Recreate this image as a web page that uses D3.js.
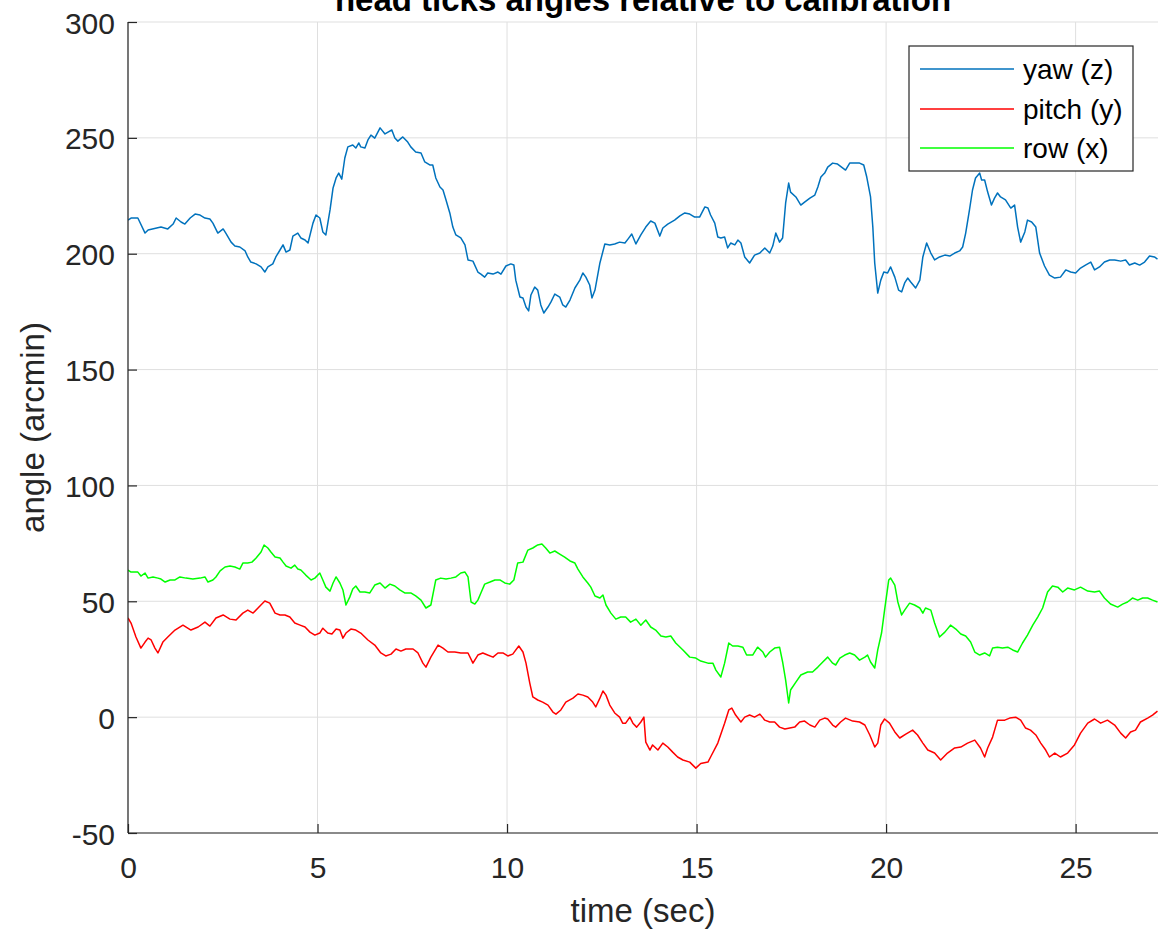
<!DOCTYPE html>
<html>
<head>
<meta charset="utf-8">
<script src="https://cdn.jsdelivr.net/npm/d3@7"></script>
<style>
  html, body { margin: 0; padding: 0; background: #fff; overflow: hidden; }
  svg { display: block; font-family: "Liberation Sans", Arial, Helvetica, sans-serif; }
</style>
</head>
<body>
<svg id="chart" width="1158" height="934"></svg>
<script>
const titleText = "head ticks angles relative to calibration";
const xLabel = "time (sec)";
const yLabel = "angle (arcmin)";
const xTicks = [0, 5, 10, 15, 20, 25];
const yTicks = [-50, 0, 50, 100, 150, 200, 250, 300];
const seriesNames = ["yaw (z)", "pitch (y)", "row (x)"];
const seriesColors = ["#0072BD", "#FF0000", "#00FF00"];

// yaw (z): [time sec, angle arcmin]
const yawData = [
[0,214.5],[0.08,215.4],[0.26,215.4],[0.45,208.9],[0.53,210.2],[0.87,211.5],[1.05,210.7],[1.19,212.8],[1.27,215.4],[1.40,213.7],
[1.50,212.8],[1.64,215.4],[1.77,217.1],[1.90,216.7],[2.03,215.4],[2.16,215.0],[2.24,213.2],[2.37,208.9],[2.51,210.7],[2.58,208.9],
[2.72,205.0],[2.82,203.3],[2.95,202.9],[3.09,201.2],[3.16,198.6],[3.24,196.4],[3.38,195.6],[3.51,194.3],[3.61,192.1],[3.69,194.3],
[3.82,195.6],[3.90,198.6],[4.01,201.6],[4.09,203.8],[4.17,200.7],[4.27,201.6],[4.35,207.6],[4.48,208.9],[4.56,206.8],[4.67,205.9],
[4.75,204.6],[4.88,213.2],[4.96,216.7],[5.06,215.4],[5.14,209.4],[5.22,208.1],[5.33,218.9],[5.41,228.4],[5.49,232.7],[5.56,234.8],
[5.64,232.2],[5.72,241.3],[5.80,246.1],[5.93,246.9],[6.01,245.6],[6.09,247.8],[6.14,246.1],[6.25,245.6],[6.33,249.1],[6.41,251.2],
[6.51,249.9],[6.65,254.3],[6.78,251.7],[6.86,252.5],[6.96,253.4],[7.04,249.9],[7.12,248.6],[7.25,250.4],[7.38,248.2],[7.46,246.1],
[7.59,243.9],[7.73,243.5],[7.83,239.6],[7.96,238.3],[8.04,238.3],[8.12,232.7],[8.23,228.8],[8.31,227.5],[8.39,223.2],[8.49,217.6],
[8.57,211.5],[8.65,208.1],[8.78,206.8],[8.89,203.8],[8.97,197.3],[9.10,196.8],[9.23,192.1],
[9.31,191.2],[9.41,189.9],[9.49,191.7],[9.63,191.2],[9.76,192.1],[9.84,191.2],[9.97,194.7],[10.10,195.6],[10.18,195.1],[10.23,188.6],
[10.34,181.3],[10.42,180.9],[10.50,177.0],[10.57,175.3],[10.63,182.2],[10.73,185.6],[10.81,184.3],[10.89,177.9],[10.97,174.4],[11.08,177.0],
[11.16,179.2],[11.26,182.6],[11.39,181.3],[11.47,177.9],[11.55,177.0],[11.66,180.0],[11.79,185.2],[11.92,188.6],[12.00,191.7],[12.08,189.9],
[12.18,186.5],[12.24,180.9],[12.32,184.3],[12.45,196.0],[12.58,204.2],[12.71,203.8],[12.84,204.2],[12.97,205.0],[13.11,204.6],[13.19,206.3],
[13.29,208.5],[13.40,204.2],[13.53,208.1],[13.66,211.5],[13.79,214.1],[13.90,213.2],[14.03,207.6],[14.11,211.1],[14.24,212.8],[14.42,214.5],
[14.56,216.3],[14.69,217.6],[14.82,217.1],[14.95,215.8],[15.08,215.8],[15.22,220.2],[15.30,219.7],[15.37,216.7],[15.48,213.2],[15.56,207.2],
[15.64,206.8],[15.74,207.2],[15.82,202.5],[15.90,204.6],[16.01,203.8],[16.09,205.9],[16.17,204.6],[16.27,198.6],[16.40,196.0],[16.53,199.4],
[16.67,200.3],[16.80,202.5],[16.93,200.3],[17.01,203.3],[17.09,208.9],[17.19,205.0],[17.27,206.8],[17.35,221.9],[17.43,230.5],[17.48,226.6],
[17.62,224.5],[17.75,221.0],[17.85,222.3],[17.99,224.0],[18.12,225.3],[18.20,228.8],[18.28,233.1],[18.38,234.8],[18.46,237.4],
[18.59,239.1],[18.72,238.7],[18.93,236.1],[19.04,239.1],[19.17,239.1],[19.30,239.1],[19.41,238.3],[19.49,233.1],[19.59,224.5],[19.65,211.5],
[19.70,196.0],[19.78,183.0],[19.86,188.6],[19.94,192.1],[20.04,191.7],[20.12,194.3],[20.23,189.9],[20.33,184.3],[20.41,183.5],[20.49,187.4],
[20.57,189.5],[20.65,187.8],[20.78,185.2],[20.89,188.6],[20.97,198.6],[21.07,204.6],[21.18,200.3],[21.28,197.3],[21.41,198.6],[21.55,199.4],
[21.68,199.0],[21.81,200.3],[21.94,201.2],[22.02,202.9],[22.10,208.9],[22.20,218.9],[22.28,227.5],[22.36,232.7],[22.47,234.8],[22.52,231.8],
[22.60,231.8],[22.68,226.6],[22.78,221.0],[22.86,224.0],[22.94,226.2],[23.02,224.5],[23.15,223.2],[23.29,219.7],[23.39,221.0],[23.47,211.5],
[23.55,205.0],[23.66,209.4],[23.73,214.5],[23.84,213.7],[23.95,211.5],[24.05,200.3],[24.18,194.7],[24.31,190.8],[24.45,189.5],[24.60,189.9],
[24.74,193.0],[24.87,192.1],[25.00,191.7],[25.13,193.8],[25.26,195.1],[25.40,196.4],[25.50,193.0],[25.63,194.3],[25.76,196.4],[25.90,197.3],
[26.03,197.3],[26.19,196.8],[26.32,197.3],[26.42,195.1],[26.56,196.0],[26.69,195.1],[26.82,196.4],[26.95,199.0],[27.08,198.6],[27.16,197.7]
];

// pitch (y)
const pitchData = [
[0,42.8],[0.08,40.6],[0.21,34.6],[0.34,29.8],[0.45,32.4],[0.53,34.1],[0.61,33.3],[0.71,29.8],[0.79,27.7],[0.92,32.4],
[1.05,34.6],[1.24,37.6],[1.45,39.7],[1.66,37.6],[1.85,38.9],[2.03,41.0],[2.16,39.3],[2.32,42.8],[2.51,44.1],[2.69,42.3],
[2.85,41.9],[3.03,44.9],[3.16,46.2],[3.30,44.9],[3.43,47.1],[3.61,50.1],[3.74,49.2],[3.88,44.9],[4.01,44.1],[4.14,44.1],
[4.27,43.2],[4.40,40.6],[4.54,39.7],[4.67,38.9],[4.80,36.7],[4.93,35.4],[5.06,36.3],[5.14,38.4],[5.27,36.3],[5.38,35.9],
[5.49,38.0],[5.59,37.6],[5.67,34.1],[5.75,36.3],[5.88,38.0],[6.01,37.6],[6.14,36.3],[6.33,33.3],[6.51,31.1],[6.67,27.7],
[6.80,26.4],[6.94,27.2],[7.07,29.4],[7.20,28.5],[7.33,29.4],[7.52,29.4],[7.65,27.7],[7.78,23.3],[7.86,21.6],[7.99,25.9],
[8.18,31.1],[8.31,29.8],[8.44,28.1],[8.62,28.1],[8.78,27.7],[8.97,27.7],[9.10,23.3],[9.23,26.8],
[9.36,27.7],[9.49,26.8],[9.63,25.9],[9.76,27.7],[9.89,27.7],[10.02,26.4],[10.15,27.2],[10.31,30.7],[10.42,28.1],[10.50,23.3],
[10.60,14.7],[10.68,8.7],[10.81,7.4],[10.94,6.5],[11.08,5.2],[11.21,2.2],[11.29,1.3],[11.42,3.1],[11.55,6.5],[11.74,8.2],
[11.87,10.0],[12.00,9.5],[12.13,8.7],[12.26,6.5],[12.34,4.4],[12.45,8.2],[12.53,11.3],[12.61,9.5],[12.71,5.2],[12.84,1.8],
[12.97,0.0],[13.05,-2.6],[13.13,-2.6],[13.24,0.0],[13.32,-2.6],[13.42,-4.3],[13.53,-2.1],[13.61,0.0],[13.66,-10.8],[13.77,-14.2],
[13.84,-12.0],[13.98,-14.2],[14.11,-11.2],[14.24,-12.9],[14.37,-15.1],[14.50,-17.2],[14.64,-18.5],[14.82,-19.4],[14.98,-22.0],[15.11,-20.0],
[15.30,-19.4],[15.37,-17.2],[15.56,-11.2],[15.74,-2.6],[15.85,3.1],[15.93,3.9],[16.03,0.9],[16.17,-2.1],[16.27,0.0],[16.40,0.9],
[16.53,0.0],[16.67,1.3],[16.80,-1.3],[16.93,-2.1],[17.06,-2.1],[17.19,-4.3],[17.33,-5.1],[17.46,-4.7],[17.59,-4.3],[17.72,-2.1],
[17.85,-1.7],[17.99,-3.4],[18.12,-4.3],[18.25,-1.3],[18.38,-0.4],[18.46,-0.8],
[18.59,-3.4],[18.67,-4.3],[18.80,-2.1],[18.93,-0.4],[19.12,-1.7],[19.30,-2.1],[19.44,-3.4],[19.57,-7.7],[19.70,-12.9],[19.78,-11.2],
[19.86,-3.4],[19.96,-0.8],[20.09,-2.6],[20.23,-6.4],[20.36,-9.0],[20.52,-7.3],[20.70,-5.6],[20.83,-7.7],[20.97,-11.2],[21.10,-14.2],
[21.28,-15.5],[21.44,-18.5],[21.62,-15.5],[21.81,-13.3],[21.97,-12.9],[22.15,-11.2],[22.34,-9.9],[22.49,-13.3],[22.60,-17.2],[22.68,-13.3],
[22.81,-8.6],[22.94,-1.3],[23.13,-1.3],[23.26,-0.4],[23.42,0.0],[23.55,-1.3],[23.68,-4.7],[23.81,-5.6],[23.95,-7.7],[24.08,-11.2],
[24.21,-14.2],[24.31,-17.2],[24.45,-15.5],[24.60,-17.2],[24.79,-15.5],[24.97,-12.0],[25.13,-6.9],[25.32,-2.6],[25.50,-0.8],[25.66,-2.6],
[25.84,-1.3],[26.03,-3.4],[26.19,-6.9],[26.32,-9.0],[26.45,-6.4],[26.58,-5.6],[26.71,-2.1],[26.90,-0.4],[27.03,0.9],[27.16,2.6]
];

// row (x)
const rowData = [
[0,63.5],[0.08,62.6],[0.26,62.6],[0.34,60.9],[0.45,62.2],[0.53,60.0],[0.66,60.5],[0.79,60.0],[0.87,59.6],[0.98,58.3],
[1.11,59.2],[1.24,59.2],[1.37,60.5],[1.53,60.0],[1.71,59.6],[1.90,60.0],[2.03,60.5],[2.11,58.3],[2.24,59.2],[2.32,60.5],
[2.43,63.1],[2.56,64.8],[2.69,65.2],[2.82,64.8],[2.95,63.9],[3.03,66.5],[3.16,66.5],[3.27,66.9],[3.38,68.7],[3.51,71.3],
[3.59,74.3],[3.69,73.0],[3.77,71.3],[3.88,69.1],[4.01,68.7],[4.09,66.9],[4.17,65.2],[4.30,64.3],[4.40,65.6],[4.48,63.9],
[4.56,63.5],[4.69,61.3],[4.83,59.2],[4.93,60.0],[5.06,62.2],[5.14,59.2],[5.22,56.1],[5.33,54.4],[5.41,57.9],[5.49,60.5],
[5.59,57.9],[5.67,54.9],[5.75,48.4],[5.85,51.8],[5.93,55.3],[6.01,56.6],[6.12,54.0],[6.25,54.0],[6.38,53.6],[6.51,57.0],
[6.65,57.9],[6.78,55.7],[6.91,57.4],[7.04,56.6],[7.17,54.9],[7.30,53.6],[7.46,53.6],[7.59,52.3],[7.73,50.5],[7.86,47.1],
[7.99,48.4],[8.12,59.2],[8.25,60.0],[8.39,59.6],[8.52,60.0],[8.65,60.5],[8.78,62.2],[8.89,62.6],[8.97,60.5],[9.05,49.7],
[9.15,48.8],[9.23,50.5],
[9.31,53.6],[9.41,57.4],[9.55,58.3],[9.68,59.2],[9.81,59.2],[9.94,57.9],[10.07,57.4],[10.18,59.2],[10.28,66.5],[10.42,66.9],
[10.55,72.1],[10.68,73.0],[10.81,74.3],[10.92,74.7],[11.02,73.0],[11.13,70.8],[11.26,71.7],[11.39,70.4],[11.52,69.1],[11.66,67.4],
[11.79,66.5],[11.87,63.9],[12.00,60.5],[12.13,57.9],[12.21,56.1],[12.32,52.3],[12.45,51.4],[12.53,52.7],[12.61,48.4],[12.74,44.9],
[12.87,42.3],[13.00,43.2],[13.13,43.2],[13.26,41.0],[13.40,42.3],[13.53,39.7],[13.66,41.9],[13.79,38.9],[13.92,37.6],[14.06,35.0],
[14.19,34.6],[14.32,35.0],[14.45,32.0],[14.64,29.0],[14.82,25.9],[14.98,25.5],[15.11,24.2],[15.30,23.3],[15.43,23.3],[15.51,20.3],
[15.64,17.3],[15.74,23.3],[15.85,32.0],[15.95,30.7],[16.09,30.7],[16.22,30.2],[16.32,26.8],[16.48,26.8],[16.61,30.2],[16.75,28.1],
[16.82,25.9],[16.93,28.1],[17.06,29.8],[17.19,30.2],[17.27,23.8],[17.35,16.0],[17.43,6.1],[17.48,11.7],[17.62,15.1],[17.75,18.2],
[17.93,19.5],[18.06,19.5],[18.20,21.6],[18.33,23.8],[18.46,25.9],
[18.59,23.3],[18.67,22.5],[18.78,25.5],[18.91,26.8],[19.04,27.7],[19.17,26.8],[19.30,24.6],[19.44,25.9],[19.51,26.8],[19.59,23.8],
[19.70,21.2],[19.78,29.0],[19.88,36.3],[19.96,46.2],[20.07,59.2],[20.12,60.0],[20.23,57.0],[20.31,49.7],[20.41,44.1],[20.49,46.2],
[20.62,49.2],[20.75,48.4],[20.89,47.1],[20.97,44.9],[21.04,47.1],[21.18,46.2],[21.28,40.6],[21.41,34.6],[21.55,36.7],[21.70,39.7],
[21.84,38.0],[21.97,35.9],[22.10,35.0],[22.23,32.4],[22.34,28.1],[22.47,26.8],[22.60,27.7],[22.73,26.4],[22.81,29.8],[22.94,30.2],
[23.07,29.8],[23.21,30.2],[23.34,29.0],[23.47,28.1],[23.60,32.0],[23.73,35.4],[23.87,39.7],[24.00,43.2],[24.13,47.1],[24.26,54.0],
[24.39,56.6],[24.53,56.1],[24.66,54.0],[24.79,55.7],[24.97,54.9],[25.13,56.1],[25.32,54.4],[25.50,54.0],[25.63,54.4],[25.76,51.4],
[25.92,48.8],[26.11,47.5],[26.24,48.8],[26.37,49.7],[26.50,51.4],[26.64,50.5],[26.77,51.4],[26.90,51.4],[27.03,50.5],[27.16,49.7]
];

const allSeries = [yawData, pitchData, rowData];

const svg = d3.select("#chart");
const L = 128, T = 22, R = 1159, B = 833;
const x = d3.scaleLinear().domain([0, 27.2]).range([L, R]);
const y = d3.scaleLinear().domain([-50, 300]).range([B, T]);
const axisColor = "#262626";
const fmt = d => String(d);

// grid
const grid = svg.append("g");
grid.selectAll("line.v").data(xTicks).enter().append("line")
  .attr("x1", d => x(d)).attr("x2", d => x(d)).attr("y1", T).attr("y2", B)
  .attr("stroke", "#dfdfdf").attr("stroke-width", 1);
grid.selectAll("line.h").data(yTicks).enter().append("line")
  .attr("x1", L).attr("x2", 1158).attr("y1", d => y(d)).attr("y2", d => y(d))
  .attr("stroke", "#dfdfdf").attr("stroke-width", 1);

// clip
svg.append("defs").append("clipPath").attr("id", "clip")
  .append("rect").attr("x", L).attr("y", T).attr("width", R - L).attr("height", B - T);

const line = d3.line().x(d => x(d[0])).y(d => y(d[1]));
const lines = svg.append("g").attr("clip-path", "url(#clip)");
allSeries.forEach((data, i) => {
  lines.append("path").datum(data)
    .attr("d", line)
    .attr("fill", "none")
    .attr("stroke", seriesColors[i])
    .attr("stroke-width", 1.5)
    .attr("stroke-linejoin", "round");
});

// axes
const xAxis = d3.axisBottom(x).tickValues(xTicks).tickSize(-9).tickPadding(20).tickFormat(fmt);
const gx = svg.append("g").attr("transform", `translate(0,${B})`).call(xAxis);
gx.select(".domain").attr("stroke", axisColor).attr("stroke-width", 1.2).attr("d", `M${L},0H1158`);
gx.selectAll(".tick line").attr("stroke", axisColor).attr("stroke-width", 1.2);
gx.selectAll(".tick text").attr("fill", axisColor).attr("font-size", 30)
  .attr("font-family", "'Liberation Sans', Arial, sans-serif").attr("dy", null).attr("y", 45);

const yAxis = d3.axisLeft(y).tickValues(yTicks).tickSize(-9).tickPadding(13).tickFormat(fmt);
const gy = svg.append("g").attr("transform", `translate(${L},0)`).call(yAxis);
gy.select(".domain").attr("stroke", axisColor).attr("stroke-width", 1.2).attr("d", `M0,${T}V${B}`);
gy.selectAll(".tick line").attr("stroke", axisColor).attr("stroke-width", 1.2);
gy.selectAll(".tick text").attr("fill", axisColor).attr("font-size", 30)
  .attr("font-family", "'Liberation Sans', Arial, sans-serif").attr("dy", null).attr("y", 11).attr("x", -13);

// labels
svg.append("text").attr("x", (L + 1158) / 2).attr("y", 11)
  .attr("text-anchor", "middle").attr("font-size", 33).attr("font-weight", "bold")
  .attr("fill", "#000").text(titleText);
svg.append("text").attr("x", (L + 1158) / 2).attr("y", 922)
  .attr("text-anchor", "middle").attr("font-size", 33).attr("fill", axisColor).text(xLabel);
svg.append("text").attr("transform", `translate(44,${(T + B) / 2}) rotate(-90)`)
  .attr("text-anchor", "middle").attr("font-size", 33).attr("fill", axisColor).text(yLabel);

// legend
const lg = svg.append("g");
lg.append("rect").attr("x", 909).attr("y", 46).attr("width", 224).attr("height", 125)
  .attr("fill", "#fff").attr("stroke", axisColor).attr("stroke-width", 1.2);
const rowY = [69, 109, 148];
seriesNames.forEach((name, i) => {
  lg.append("line").attr("x1", 920).attr("x2", 1014).attr("y1", rowY[i]).attr("y2", rowY[i])
    .attr("stroke", seriesColors[i]).attr("stroke-width", 1.5);
  lg.append("text").attr("x", 1023).attr("y", rowY[i] + 10)
    .attr("font-size", 28).attr("fill", "#000").text(name);
});
</script>
</body>
</html>
